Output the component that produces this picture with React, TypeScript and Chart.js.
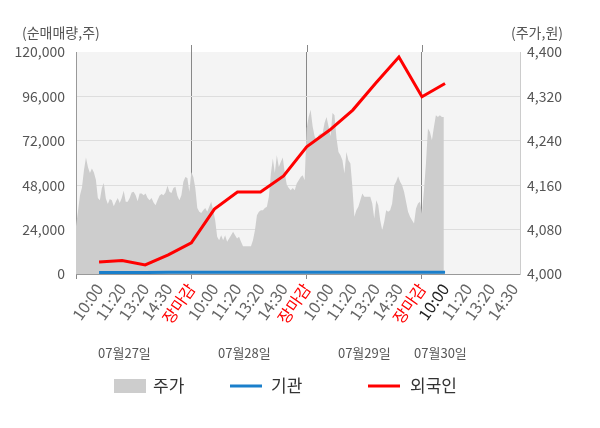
import { useEffect, useRef } from "react"
import { Chart, registerables } from "chart.js"

Chart.register(...registerables)

// x tick labels, one per slot (slot 0 is the left edge)
const xTickLabels = [
  "10:00", "11:20", "13:20", "14:30", "장마감",
  "10:00", "11:20", "13:20", "14:30", "장마감",
  "10:00", "11:20", "13:20", "14:30", "장마감",
  "10:00", "11:20", "13:20", "14:30",
]
const dayLabels = ["07월27일", "07월28일", "07월29일", "07월30일"]

// net buy volume per slot (slots 1..16)
const institution = [800, 800, 800, 900, 900, 900, 900, 900, 900, 900, 900, 900, 900, 900, 900, 900]
const foreigner = [6500, 7300, 4900, 10300, 16800, 35100, 44300, 44300, 53000, 68800, 77800, 88600, 103200, 117300, 95800, 103000]

// intraday price, per day
const priceDay1 = [
  4086, 4113, 4142, 4156, 4187, 4210, 4193, 4182, 4190, 4183, 4170, 4137, 4133, 4155, 4164,
  4136, 4126, 4135, 4133, 4122, 4130, 4137, 4128, 4137, 4150, 4130, 4130, 4137, 4147, 4148,
  4142, 4131, 4145, 4145, 4142, 4145, 4137, 4133, 4137, 4129, 4124, 4133, 4141, 4144, 4142,
  4147, 4159, 4148, 4146, 4155, 4157, 4141, 4133, 4142, 4166, 4175, 4173, 4148,
]
const priceDay2 = [
  4184, 4175, 4155, 4119, 4112, 4110, 4115, 4119, 4112, 4121, 4130, 4115, 4097, 4067, 4061,
  4070, 4061, 4070, 4058, 4064, 4070, 4076, 4070, 4064, 4067, 4058, 4050, 4050, 4050, 4050,
  4050, 4061, 4079, 4106, 4112, 4115, 4115, 4119, 4121, 4139, 4180, 4208, 4182, 4214, 4193,
  4202, 4210, 4182, 4161, 4155, 4151, 4155, 4151, 4163, 4169, 4175, 4178, 4169,
]
const priceDay3 = [
  4262, 4283, 4296, 4266, 4248, 4241, 4250, 4253, 4253, 4272, 4283, 4266, 4248, 4290, 4286,
  4245, 4220, 4214, 4205, 4181, 4220, 4205, 4199, 4157, 4103, 4115, 4121, 4133, 4145, 4139,
  4139, 4139, 4139, 4127, 4100, 4133, 4124, 4097, 4079, 4094, 4115, 4112, 4115, 4127, 4160,
  4166, 4176, 4166, 4160, 4148, 4130, 4112, 4103, 4097, 4091, 4118, 4127, 4130,
]
const priceDay4 = [4109, 4151, 4199, 4262, 4256, 4241, 4265, 4286, 4283, 4286, 4283, 4283]

const SLOTS_PER_DAY = 5
const FONT = "'Noto Sans CJK KR', 'Noto Sans', sans-serif"

function priceSeries() {
  const days = [priceDay1, priceDay2, priceDay3, priceDay4]
  const step = SLOTS_PER_DAY / priceDay1.length
  const pts: { x: number; y: number }[] = []
  days.forEach((day, d) => {
    day.forEach((v, i) => pts.push({ x: d * SLOTS_PER_DAY + i * step, y: v }))
  })
  return pts
}

const slotSeries = (values: number[]) => values.map((v, i) => ({ x: i + 1, y: v }))

const decor = {
  id: "decor",
  beforeDraw(chart: any) {
    const { ctx, chartArea: a } = chart
    ctx.save()
    ctx.fillStyle = "#f4f4f4"
    ctx.fillRect(a.left, a.top, a.right - a.left, a.bottom - a.top)
    ctx.restore()
  },
  afterDraw(chart: any) {
    const { ctx, chartArea: a, scales } = chart
    const x = scales.x
    ctx.save()
    // day separators poke above the plot a little
    ctx.strokeStyle = "#888"
    ctx.lineWidth = 1
    ;[5, 10, 15].forEach((v) => {
      const px = Math.round(x.getPixelForValue(v)) + 0.5
      ctx.beginPath()
      ctx.moveTo(px, a.top - 7)
      ctx.lineTo(px, a.top)
      ctx.stroke()
    })

    ctx.fillStyle = "#555"
    ctx.font = `14px ${FONT}`
    ctx.textBaseline = "middle"
    ctx.textAlign = "left"
    ctx.fillText("(순매매량,주)", 22, 33)
    ctx.textAlign = "right"
    ctx.fillText("(주가,원)", 563, 33)

    // date row
    ctx.font = `13px ${FONT}`
    ctx.textAlign = "center"
    const dateAt = [2.1, 7.3, 12.5, 15.8]
    dayLabels.forEach((t, i) => ctx.fillText(t, x.getPixelForValue(dateAt[i]), 353))

    // legend
    const ly = 386
    ctx.font = `17px ${FONT}`
    ctx.textAlign = "left"
    ctx.fillStyle = "#cdcdcd"
    ctx.fillRect(114, ly - 7, 32, 14)
    ctx.fillStyle = "#333"
    ctx.fillText("주가", 153, ly)
    ctx.strokeStyle = "#1a7fcb"
    ctx.lineWidth = 3
    ctx.beginPath()
    ctx.moveTo(230, ly)
    ctx.lineTo(262, ly)
    ctx.stroke()
    ctx.fillText("기관", 271, ly)
    ctx.strokeStyle = "#ff0000"
    ctx.beginPath()
    ctx.moveTo(368, ly)
    ctx.lineTo(400, ly)
    ctx.stroke()
    ctx.fillText("외국인", 410, ly)
    ctx.restore()
  },
}

export default function App() {
  const chartRef = useRef<HTMLCanvasElement>(null)
  const chartInstance = useRef<Chart | null>(null)

  useEffect(() => {
    if (!chartRef.current) return
    if (chartInstance.current) chartInstance.current.destroy()
    const ctx = chartRef.current.getContext("2d")
    if (!ctx) return

    Chart.defaults.font.family = FONT

    chartInstance.current = new Chart(ctx, {
      type: "line",
      data: {
        datasets: [
          {
            label: "주가",
            data: priceSeries(),
            yAxisID: "y1",
            fill: "start",
            backgroundColor: "#cdcdcd",
            borderWidth: 0,
            pointRadius: 0,
            order: 3,
          },
          {
            label: "기관",
            data: slotSeries(institution),
            yAxisID: "y",
            borderColor: "#1a7fcb",
            borderWidth: 3,
            pointRadius: 0,
            order: 2,
          },
          {
            label: "외국인",
            data: slotSeries(foreigner),
            yAxisID: "y",
            borderColor: "#ff0000",
            borderWidth: 3,
            pointRadius: 0,
            order: 1,
          },
        ],
      },
      options: {
        animation: false,
        responsive: true,
        maintainAspectRatio: false,
        layout: { padding: { top: 52, left: 0, right: 0, bottom: 0 } },
        plugins: {
          legend: { display: false },
          tooltip: { enabled: false },
        },
        scales: {
          x: {
            type: "linear",
            min: 0,
            max: 19.25,
            afterBuildTicks: (scale: any) => {
              scale.ticks = [0, ...xTickLabels.map((_, i) => i + 1)].map((v) => ({ value: v }))
            },
            afterFit: (scale: any) => {
              scale.height = 154
            },
            ticks: {
              autoSkip: false,
              minRotation: 55,
              maxRotation: 55,
              padding: 1,
              font: { size: 16 },
              color: (c: any) => {
                const v = c.tick?.value
                if (v > 0 && xTickLabels[v - 1] === "장마감") return "#ff0000"
                if (v === 16) return "#222"
                return "#666"
              },
              callback: (v: any) => (v === 0 ? "" : xTickLabels[v - 1]),
            },
            grid: {
              tickLength: 5,
              color: (c: any) => ([0, 5, 10, 15].includes(c.tick?.value) ? "#888" : "rgba(0,0,0,0)"),
            },
            border: { color: "#999" },
          },
          y: {
            position: "left",
            min: 0,
            max: 120000,
            afterFit: (scale: any) => {
              scale.width = 76
            },
            ticks: {
              stepSize: 24000,
              padding: 11,
              color: "#555",
              font: { size: 14 },
              callback: (v: any) => Number(v).toLocaleString("en-US"),
            },
            grid: {
              drawTicks: false,
              color: (c: any) => (c.tick?.value === 0 || c.tick?.value === 120000 ? "rgba(0,0,0,0)" : "#dddddd"),
            },
            border: { color: "#999" },
          },
          y1: {
            position: "right",
            min: 4000,
            max: 4400,
            afterFit: (scale: any) => {
              scale.width = 80
            },
            ticks: {
              stepSize: 80,
              padding: 7,
              color: "#555",
              font: { size: 14 },
              callback: (v: any) => Number(v).toLocaleString("en-US"),
            },
            grid: { display: false, drawTicks: false },
            border: { color: "#ccc" },
          },
        },
      },
      plugins: [decor],
    })

    return () => {
      if (chartInstance.current) {
        chartInstance.current.destroy()
        chartInstance.current = null
      }
    }
  }, [])

  return (
    <div style={{ position: "fixed", left: 0, top: 0, width: 600, height: 428, background: "#fff" }}>
      <canvas ref={chartRef} />
    </div>
  )
}
